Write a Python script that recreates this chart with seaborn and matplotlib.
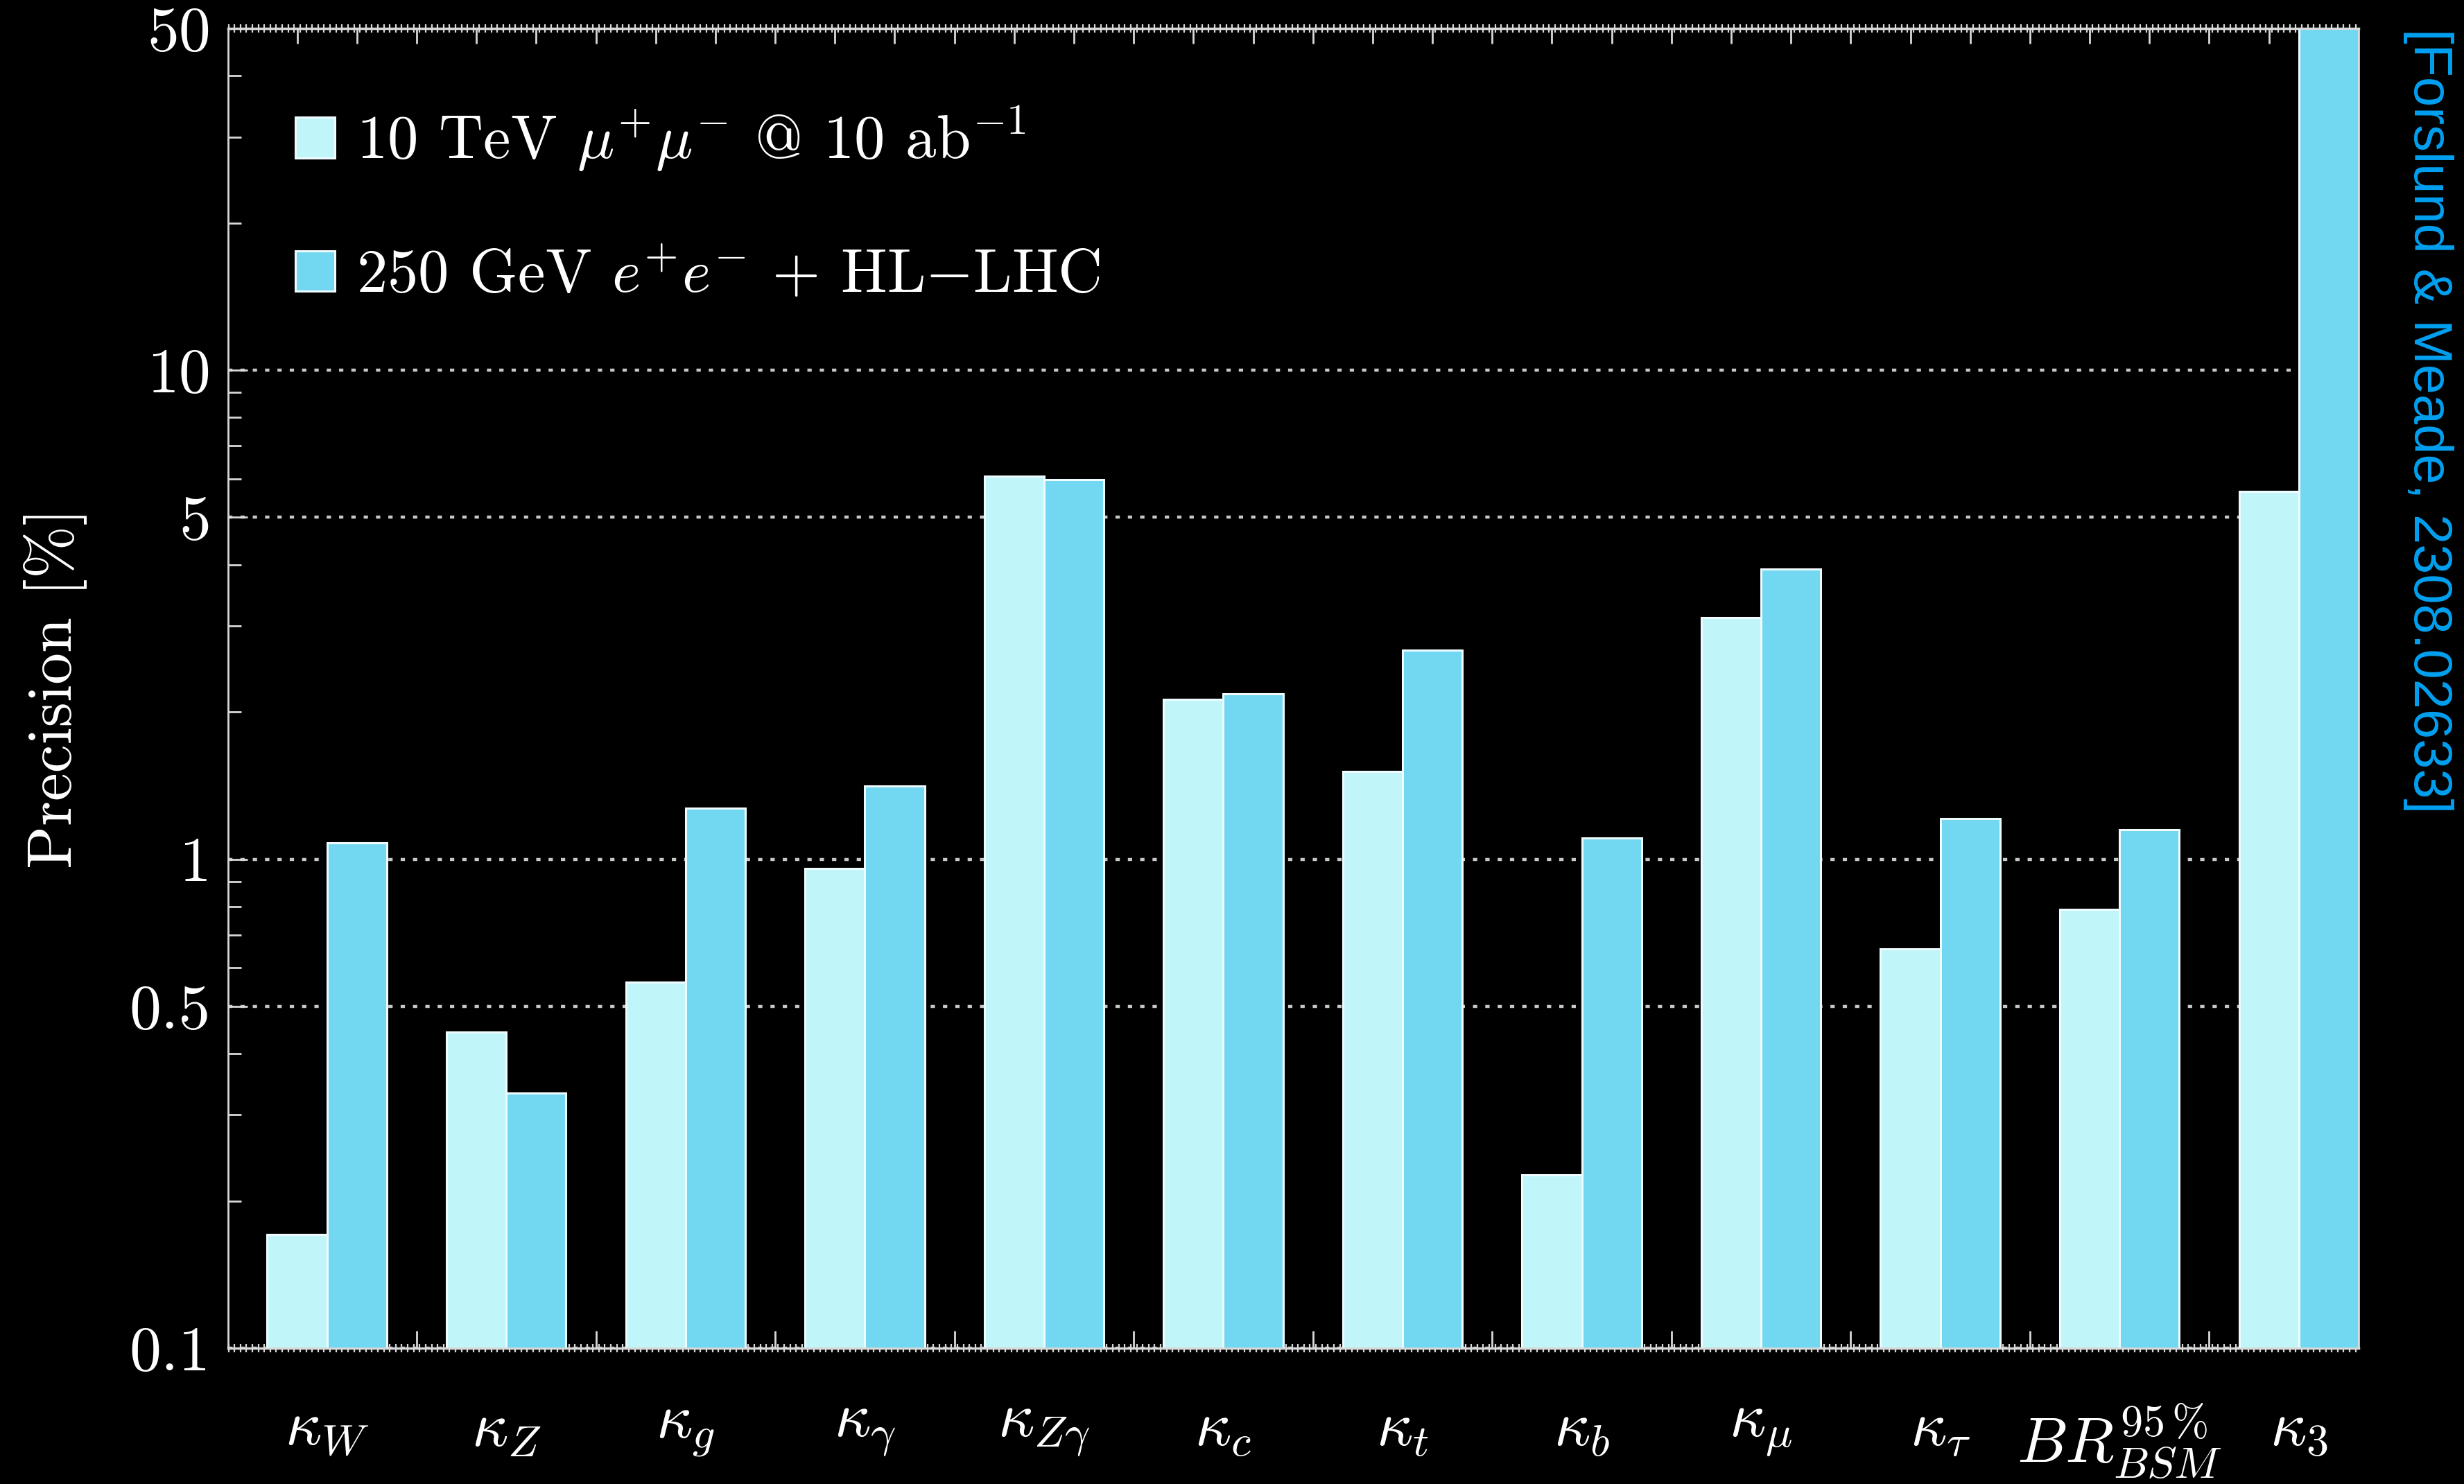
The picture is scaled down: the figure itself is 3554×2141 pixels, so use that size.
import numpy as np
import pandas as pd
import matplotlib
matplotlib.use("Agg")
import matplotlib.pyplot as plt
from matplotlib.patches import Patch
from matplotlib.ticker import FixedLocator, NullFormatter
import seaborn as sns

# Higgs coupling precision (%) for two collider scenarios
couplings = [r"$\kappa_W$", r"$\kappa_Z$", r"$\kappa_g$", r"$\kappa_\gamma$",
             r"$\kappa_{Z\gamma}$", r"$\kappa_c$", r"$\kappa_t$", r"$\kappa_b$",
             r"$\kappa_\mu$", r"$\kappa_\tau$", r"$BR_{BSM}^{95\,\%}$", r"$\kappa_3$"]
muon_10tev = [0.171, 0.443, 0.561, 0.957, 6.08, 2.12, 1.51, 0.226, 3.12, 0.656, 0.789, 5.65]
ee_250_hllhc = [1.08, 0.332, 1.27, 1.41, 5.98, 2.18, 2.68, 1.105, 3.92, 1.21, 1.15, 50.0]
series_names = [r"10 TeV $\mu^{+}\mu^{-}$ @ 10 ab$^{-1}$",
                r"250 GeV $e^{+}e^{-}$ + HL$-$LHC"]
ytick_values = [0.1, 0.5, 1, 5, 10, 50]
ytick_labels = ["0.1", "0.5", "1", "5", "10", "50"]
citation = "[Forslund & Meade, 2308.02633]"

light_blue = "#C0F5FA"
mid_blue = "#72D7F0"
cite_blue = "#00A0F0"
frame_col = "#d8d8d8"

df = pd.DataFrame({
    "coupling": couplings * 2,
    "precision": muon_10tev + ee_250_hllhc,
    "collider": [series_names[0]] * len(couplings) + [series_names[1]] * len(couplings),
})

sns.set_theme(style="ticks")
plt.rcParams.update({
    "figure.facecolor": "black",
    "axes.facecolor": "black",
    "savefig.facecolor": "black",
    "text.color": "white",
    "axes.labelcolor": "white",
    "xtick.color": frame_col,
    "ytick.color": frame_col,
    "axes.edgecolor": frame_col,
    "mathtext.fontset": "cm",
    "axes.formatter.use_mathtext": True,
})
plt.rcParams["font.family"] = ["cmr10", "DejaVu Serif"]

fig = plt.figure(figsize=(17.77, 10.705), dpi=200)
ax = fig.add_axes([329 / 3554, 1 - 1945 / 2141, (3402 - 329) / 3554, (1945 - 41) / 2141])
ax.set_yscale("log")

sns.barplot(data=df, x="coupling", y="precision", hue="collider",
            palette=[light_blue, mid_blue], width=0.667, gap=0,
            edgecolor="#eefbff", linewidth=1.1, saturation=1, ax=ax, legend=False)

ax.set_ylim(0.1, 50)
ax.set_xlim(-0.552, 11.3335)

# dotted horizontal guides behind the bars
ax.set_axisbelow(True)
ax.yaxis.grid(True, which="major", color="#c8c8c8", linestyle=(0, (1.4, 2.6)), linewidth=1.6)
ax.xaxis.grid(False)

# y axis ticks
ax.yaxis.set_major_locator(FixedLocator(ytick_values))
ax.set_yticklabels(ytick_labels)
ax.yaxis.set_minor_formatter(NullFormatter())
ax.tick_params(axis="y", which="major", direction="in", length=10, width=1.0,
               left=True, right=True, labelsize=33, labelcolor="white", pad=9)
ax.tick_params(axis="y", which="minor", direction="in", length=7, width=1.0,
               left=True, right=True)

# x axis: labels at group centres, tick marks between groups
n = len(couplings)
ax.set_xticks(np.arange(n))
ax.set_xticklabels(couplings)
ax.xaxis.set_minor_locator(FixedLocator(np.arange(n) + 0.5))
ax.tick_params(axis="x", which="major", length=0, labelsize=33, labelcolor="white", pad=28)
ax.tick_params(axis="x", which="minor", direction="in", length=9, width=1.0,
               bottom=True, top=False)

fine = np.arange(-0.55, 11.34, 1 / 30)
bar_centres = np.concatenate([np.arange(n) - 1 / 6, np.arange(n) + 1 / 6])

sec_bottom = ax.secondary_xaxis("bottom")
sec_bottom.xaxis.set_major_locator(FixedLocator(bar_centres))
sec_bottom.xaxis.set_minor_locator(FixedLocator(fine))
sec_bottom.xaxis.set_major_formatter(NullFormatter())
sec_bottom.tick_params(which="major", direction="in", length=7, width=1.0, color=frame_col)
sec_bottom.tick_params(which="minor", direction="inout", length=4, width=0.8, color=frame_col)
sec_bottom.spines["bottom"].set_color(frame_col)

sec_top = ax.secondary_xaxis("top")
top_ticks = np.arange(-1 / 6, 11.34, 1 / 3)
sec_top.xaxis.set_major_locator(FixedLocator(top_ticks))
sec_top.xaxis.set_minor_locator(FixedLocator(fine))
sec_top.xaxis.set_major_formatter(NullFormatter())
sec_top.tick_params(which="major", direction="in", length=8, width=1.0, color=frame_col)
sec_top.tick_params(which="minor", direction="inout", length=4, width=0.8, color=frame_col)
sec_top.spines["top"].set_color(frame_col)

for side in ["left", "right", "top", "bottom"]:
    ax.spines[side].set_color(frame_col)
    ax.spines[side].set_linewidth(1.0)

ax.set_xlabel("")
ax.set_ylabel("Precision [%]", fontsize=33, labelpad=22)

handles = [Patch(facecolor=light_blue, edgecolor="#eefbff", linewidth=1.1),
           Patch(facecolor=mid_blue, edgecolor="#eefbff", linewidth=1.1)]
leg = ax.legend(handles, series_names, loc="upper left", bbox_to_anchor=(0.0316, 0.942),
                frameon=False, fontsize=32, handlelength=0.64, handleheight=0.64,
                handletextpad=0.35, labelspacing=1.2, borderpad=0, borderaxespad=0)
for t in leg.get_texts():
    t.set_color("white")

fig.text(3502 / 3554, 1 - 41 / 2141, citation, rotation=-90, ha="center", va="top",
         color=cite_blue, fontsize=28, family=["Liberation Sans", "DejaVu Sans"])

fig.savefig("out.png", dpi=200, facecolor="black")
